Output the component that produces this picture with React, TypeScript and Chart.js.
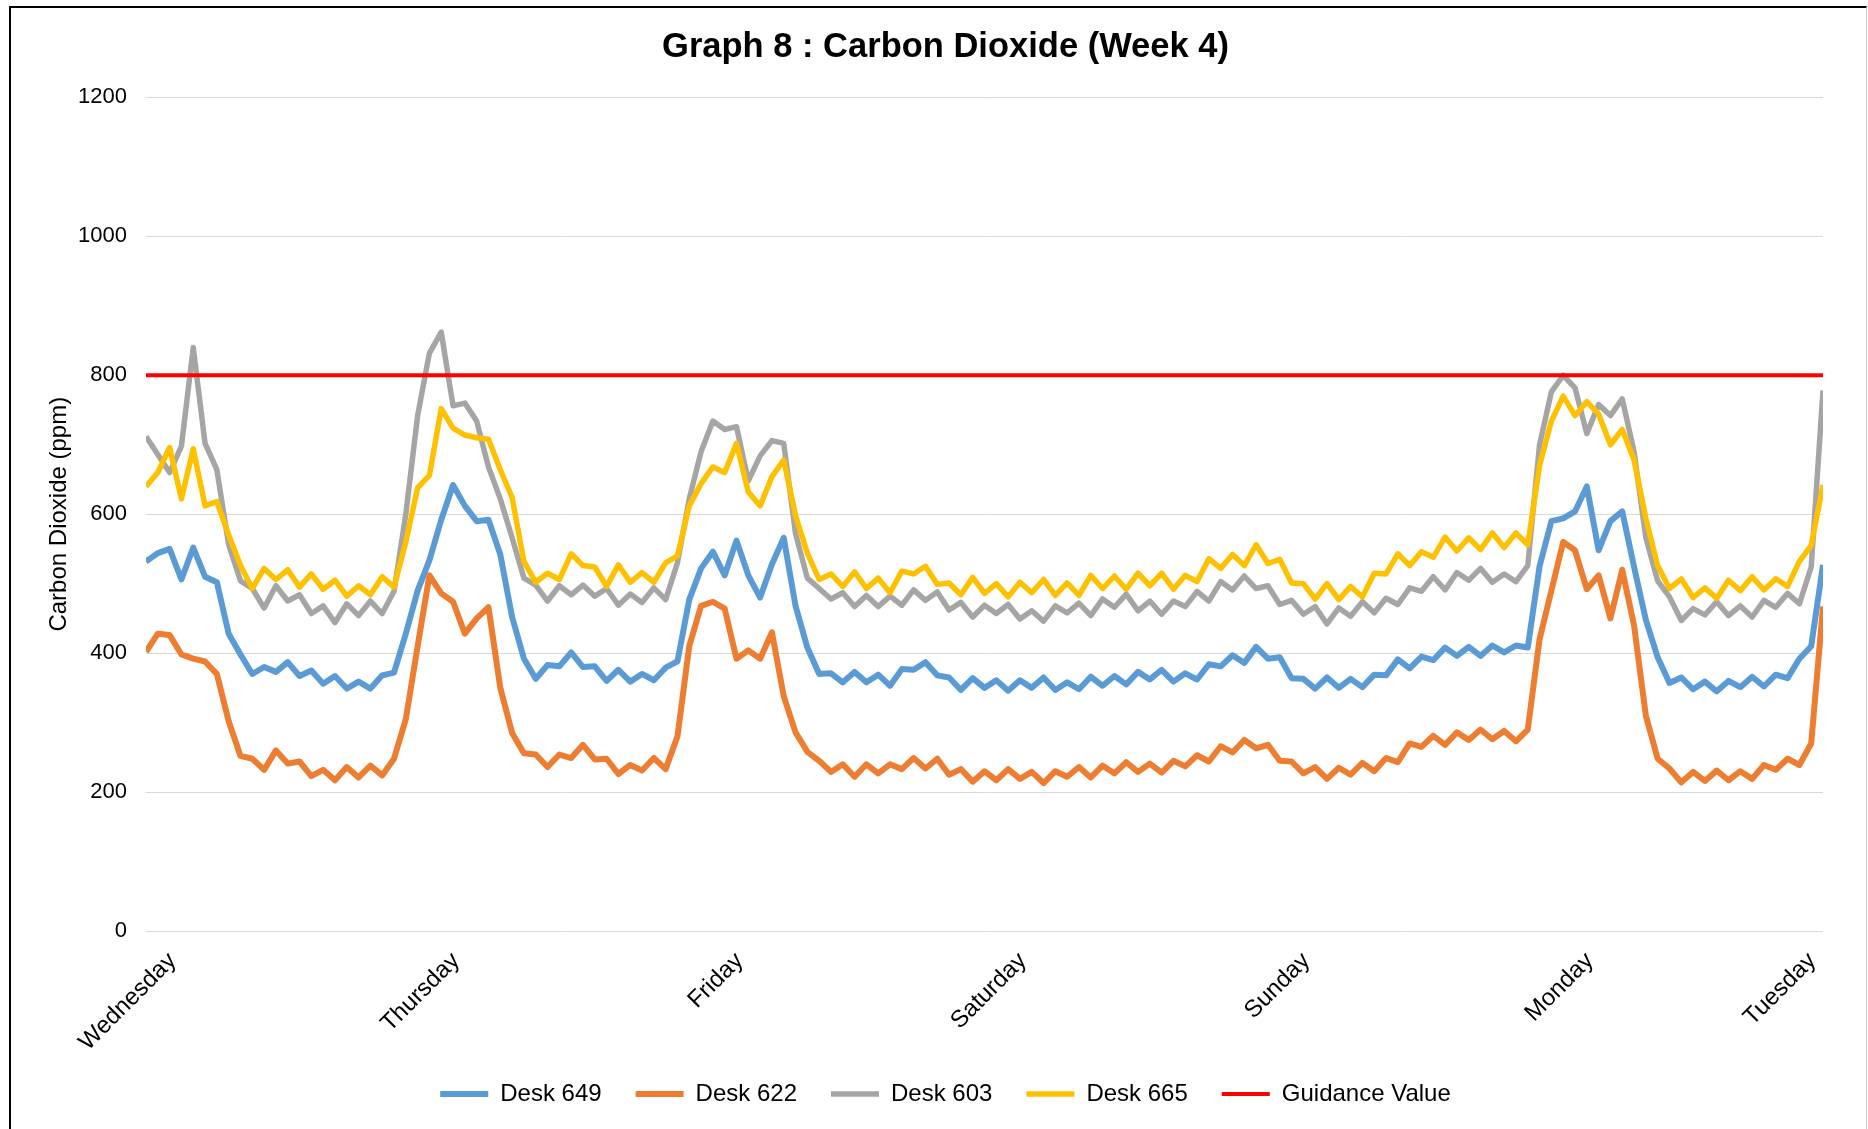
import React, { useEffect, useRef } from "react";
import { Chart, registerables } from "chart.js";

Chart.register(...registerables);

const chartTitle = "Graph 8 : Carbon Dioxide (Week 4)";
const yAxisTitle = "Carbon Dioxide (ppm)";
const dayLabels = ["Wednesday", "Thursday", "Friday", "Saturday", "Sunday", "Monday", "Tuesday"];
// tick positions, in hours from the first reading
const dayTickHours = [2.25, 26.25, 50.25, 74.25, 98.25, 122.25, 141.1];
const yMin = 0;
const yMax = 1200;
const yStep = 200;
const guidanceValue = 800;

// hourly readings (ppm)
const desk649 = [
  532, 544, 550, 506, 552, 510, 502, 428, 398, 370,
  380, 373, 387, 367, 375, 356, 367, 349, 359, 349,
  368, 372, 428, 490, 534, 592, 642, 612, 590, 592,
  542, 452, 392, 363, 383, 381, 401, 380, 381, 360,
  376, 359, 370, 361, 379, 388, 477, 522, 546, 512,
  562, 512, 480, 528, 566, 468, 408, 370, 371, 358,
  373, 358, 369, 353, 377, 376, 387, 368, 365, 347,
  364, 350, 361, 346, 361, 350, 365, 347, 358, 348,
  366, 353, 367, 355, 373, 362, 376, 359, 371, 362,
  384, 381, 397, 386, 409, 392, 394, 364, 363, 349,
  365, 350, 363, 351, 369, 368, 391, 378, 395, 390,
  408, 396, 409, 396, 411, 401, 411, 408, 525, 590,
  594, 604, 640, 548, 590, 604, 524, 448, 394, 357,
  365, 348, 359, 345, 360, 351, 366, 352, 369, 364,
  392, 410, 527,
];

const desk622 = [
  402, 428, 426, 398, 392, 388, 370, 302, 252, 248,
  232, 260, 241, 244, 223, 232, 217, 236, 221, 238,
  224, 248, 305, 410, 512, 486, 474, 428, 450, 466,
  350, 285, 256, 254, 236, 254, 249, 268, 247, 248,
  226, 239, 231, 249, 233, 280, 410, 468, 474, 464,
  392, 404, 392, 430, 338, 286, 258, 245, 229, 240,
  222, 240, 227, 240, 233, 249, 234, 248, 225, 233,
  215, 230, 217, 233, 219, 229, 213, 230, 222, 236,
  221, 238, 227, 243, 229, 241, 228, 245, 237, 253,
  244, 266, 257, 275, 263, 268, 245, 244, 227, 236,
  219, 235, 225, 242, 230, 249, 243, 270, 265, 281,
  268, 286, 275, 290, 276, 288, 273, 290, 420, 490,
  560, 548, 492, 512, 450, 520, 440, 310, 248, 234,
  214, 229, 216, 231, 217, 230, 219, 239, 232, 248,
  239, 270, 467,
];

const desk603 = [
  712, 686, 660, 698, 840, 702, 664, 556, 504, 493,
  465, 497, 475, 484, 457, 468, 444, 471, 454, 475,
  457, 489, 600, 742, 832, 862, 756, 760, 734, 668,
  622, 566, 508, 498, 475, 497, 484, 498, 482, 493,
  469, 485, 473, 494, 477, 530, 622, 690, 734, 722,
  726, 648, 684, 706, 702, 572, 508, 493, 478, 487,
  467, 483, 467, 482, 469, 491, 476, 488, 462, 473,
  452, 469, 457, 470, 449, 461, 446, 468, 458, 472,
  454, 478, 466, 485, 461, 475, 456, 475, 467, 489,
  475, 503, 491, 511, 493, 497, 470, 476, 456, 467,
  442, 465, 453, 474, 458, 479, 470, 494, 489, 510,
  491, 516, 505, 522, 502, 514, 503, 526, 700, 776,
  800, 782, 716, 758, 742, 766, 690, 566, 504, 481,
  447, 464, 455, 474, 454, 468, 452, 476, 466, 486,
  471, 524, 778,
];

const desk665 = [
  640, 660, 696, 622, 694, 612, 618, 570, 526, 493,
  522, 506, 520, 495, 514, 492, 505, 482, 497, 484,
  510, 495, 560, 638, 656, 752, 724, 714, 710, 708,
  664, 624, 532, 502, 515, 506, 543, 526, 524, 496,
  527, 502, 516, 502, 530, 540, 612, 644, 668, 660,
  702, 632, 612, 654, 678, 598, 544, 506, 514, 496,
  517, 493, 508, 487, 518, 514, 525, 499, 501, 484,
  509, 486, 500, 481, 502, 487, 506, 483, 501, 483,
  512, 493, 511, 492, 515, 497, 515, 492, 512, 503,
  536, 522, 542, 526, 556, 529, 535, 501, 500, 478,
  500, 477, 496, 481, 515, 514, 543, 526, 546, 538,
  567, 547, 566, 549, 573, 552, 573, 556, 670, 734,
  770, 742, 762, 744, 700, 722, 678, 594, 526, 493,
  507, 480, 494, 479, 505, 490, 510, 491, 507, 496,
  532, 555, 642,
];

const FONT = "'Liberation Sans', Arial, Helvetica, sans-serif";

export default function App() {
  const canvasRef = useRef<HTMLCanvasElement | null>(null);

  useEffect(() => {
    const canvas = canvasRef.current;
    if (!canvas) return;
    const hours = desk649.map((_, i) => i);
    const toPoints = (arr: number[]) => arr.map((v, i) => ({ x: hours[i], y: v }));
    const lastHour = hours[hours.length - 1];

    const lineBase = {
      pointRadius: 0,
      pointHoverRadius: 0,
      tension: 0,
      borderJoinStyle: "round" as const,
      fill: false,
    };

    const chart = new Chart(canvas, {
      type: "line",
      data: {
        datasets: [
          { ...lineBase, label: "Desk 649", data: toPoints(desk649), borderColor: "#5B9BD5", backgroundColor: "#5B9BD5", borderWidth: 6, order: 4 },
          { ...lineBase, label: "Desk 622", data: toPoints(desk622), borderColor: "#ED7D31", backgroundColor: "#ED7D31", borderWidth: 6, order: 3 },
          { ...lineBase, label: "Desk 603", data: toPoints(desk603), borderColor: "#A5A5A5", backgroundColor: "#A5A5A5", borderWidth: 5.5, order: 2 },
          { ...lineBase, label: "Desk 665", data: toPoints(desk665), borderColor: "#FFC000", backgroundColor: "#FFC000", borderWidth: 5.5, order: 1 },
          {
            ...lineBase,
            label: "Guidance Value",
            data: [
              { x: hours[0], y: guidanceValue },
              { x: lastHour, y: guidanceValue },
            ],
            borderColor: "#FF0000",
            backgroundColor: "#FF0000",
            borderWidth: 4,
            order: 0,
          },
        ],
      },
      options: {
        responsive: false,
        animation: false,
        events: [],
        layout: { padding: { left: 68, right: 45, top: 0, bottom: 13 } },
        plugins: {
          title: {
            display: true,
            text: chartTitle,
            color: "#000",
            font: { family: FONT, size: 34.5, weight: "bold" },
            padding: { top: 27, bottom: 29 },
          },
          legend: {
            display: true,
            position: "bottom",
            labels: {
              usePointStyle: true,
              pointStyle: "line",
              pointStyleWidth: 48,
              color: "#000",
              font: { family: FONT, size: 24 },
              padding: 34,
              sort: (a: any, b: any) => a.datasetIndex - b.datasetIndex,
            },
          },
          tooltip: { enabled: false },
        },
        scales: {
          x: {
            type: "linear",
            min: 0,
            max: lastHour,
            grid: { display: false, drawTicks: false },
            border: { display: false },
            afterBuildTicks: (scale: any) => {
              scale.ticks = dayTickHours.map((v) => ({ value: v }));
            },
            afterFit: (scale: any) => {
              scale.height = 117;
            },
            ticks: {
              autoSkip: false,
              minRotation: 45,
              maxRotation: 45,
              padding: 16,
              color: "#000",
              font: { family: FONT, size: 24 },
              callback: (_v: any, i: number) => dayLabels[i] ?? "",
            },
          },
          y: {
            min: yMin,
            max: yMax,
            grid: { color: "#D9D9D9", lineWidth: 1, drawTicks: false },
            border: { display: false },
            afterFit: (scale: any) => {
              scale.width = 78;
            },
            ticks: {
              stepSize: yStep,
              padding: 19,
              color: "#000",
              font: { family: FONT, size: 22 },
              callback: (v: any) => String(v),
            },
            title: {
              display: true,
              text: yAxisTitle,
              color: "#000",
              font: { family: FONT, size: 24 },
              padding: { top: -23, bottom: 0 },
            },
          },
        },
      },
    } as any);

    return () => chart.destroy();
  }, []);

  return (
    <div
      style={{
        position: "absolute",
        left: 0,
        top: 0,
        width: 1868,
        height: 1129,
        background: "#ffffff",
        overflow: "hidden",
      }}
    >
      <div
        style={{
          position: "absolute",
          left: 9,
          top: 6,
          width: 1858,
          height: 1123,
          boxSizing: "border-box",
          borderTop: "2px solid #000",
          borderLeft: "2px solid #000",
          borderRight: "1px solid #cfcfcf",
        }}
      />
      <canvas
        ref={canvasRef}
        width={1868}
        height={1129}
        style={{ position: "absolute", left: 0, top: 0, width: 1868, height: 1129 }}
      />
    </div>
  );
}
